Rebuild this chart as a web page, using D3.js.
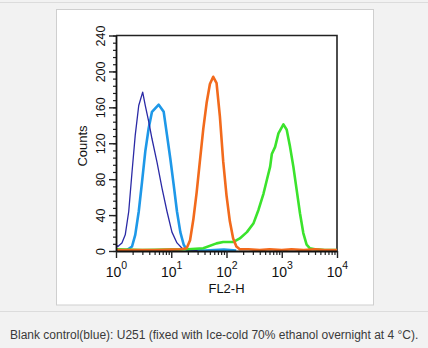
<!DOCTYPE html>
<html><head><meta charset="utf-8">
<script src="https://cdn.jsdelivr.net/npm/d3@7/dist/d3.min.js"></script>
<style>body{margin:0;background:#f2f2f2}svg{display:block}</style>
</head><body><svg id="c" width="428" height="348"></svg>
<script>
// ---- data (FL2-H value, counts) ----
const xTickValues = [1, 10, 100, 1000, 10000];
const yTickValues = [0, 40, 80, 120, 160, 200, 240];
const xLabel = "FL2-H";
const yLabel = "Counts";
const caption = "Blank control(blue): U251 (fixed with Ice-cold 70% ethanol overnight at 4 °C).";

const navyFL    = [1.00, 1.08, 1.28, 1.47, 1.70, 1.95, 2.23, 2.58, 3.04, 3.39, 3.91, 4.48, 5.52, 6.80, 8.38, 10.3, 12.7, 15.7, 20, 30];
const navyCount = [7,    5,    9,    18,   44,   88,   129,  162,  177,  162,  144,  125,  99,   70,   44,   21,   9,    3,    1,  0.5];

const blueFL    = [1.00, 1.30, 1.58, 1.95, 2.23, 2.58, 2.96, 3.39, 3.91, 4.48, 5.93, 7.30, 8.38, 9.61, 11.1, 12.7, 14.6, 16.8, 19.3, 25, 30, 40, 60, 90, 150];
const blueCount = [1,    1,    1,    5,    18,   44,   77,   111,  137,  155,  163,  155,  129,  103,  73,   44,   21,   7,    1,    1,  1,  0.5, 1, 1.5, 0.5];

const orangeFL    = [1, 5, 10, 15, 19.0, 21.9, 25.1, 28.8, 33.1, 38.0, 43.7, 50.1, 57.5, 66.1, 75.9, 87.1, 100, 115, 132, 151, 174, 250, 400, 600, 1000, 1500, 2500, 4000, 6000, 10000];
const orangeCount = [1, 1, 1.5, 2, 3,   12,   35,   65,   101,  136,  165,  186,  194,  187,  150,  100,  62,  33,  14,  5,   2,   2,   1,   2,   1,    2,    1,    2,    1,    1];

const greenFL    = [1, 3, 10, 20, 38, 66, 87, 132, 174, 234, 309, 380, 468, 537, 617, 661, 759, 871, 1072, 1230, 1413, 1622, 1862, 2138, 2455, 2818, 3236, 4000, 6000, 10000];
const greenCount = [2, 1, 1.5, 2, 3, 8.5, 10, 10,  14,  21,  31,  46,  64,  79,  94,  108, 116, 131, 141,  135,  116,  94,   68,   42,   20,   7,    3,    2,    1,    1];

// ---- layout ----
const svg = d3.select("#c");
svg.append("rect").attr("x",0).attr("y",0).attr("width",428).attr("height",348).attr("fill","#f2f2f2");
svg.append("line").attr("x1",0).attr("x2",428).attr("y1",2.5).attr("y2",2.5).attr("stroke","#dcdcdc");
svg.append("rect").attr("x",56.5).attr("y",9.5).attr("width",317).attr("height",295.5).attr("fill","#fff").attr("stroke","#cfcfcf");
svg.append("line").attr("x1",0).attr("x2",428).attr("y1",311.5).attr("y2",311.5).attr("stroke","#dcdcdc");

const x = d3.scaleLog().domain([1, 10000]).range([116, 337]);
const y = d3.scaleLinear().domain([0, 240]).range([251, 35.5]);
const font = "'Liberation Sans', Arial, Helvetica, sans-serif";

// frame top/right
svg.append("path").attr("d", `M${x(1)},${y(240)}H${x(10000)}V${y(0)}`).attr("fill","none").attr("stroke","#222").attr("stroke-width",1.6);

// curves
const line = d3.line().x(d => x(d[0])).y(d => y(d[1]));
const zip = (a, b) => a.map((v, i) => [v, b[i]]);
const series = [
  {fl: blueFL, c: blueCount, color: "#1e98e8", w: 2.6},
  {fl: navyFL, c: navyCount, color: "#2b2aa6", w: 1.3},
  {fl: greenFL, c: greenCount, color: "#3be32c", w: 2.6},
  {fl: orangeFL, c: orangeCount, color: "#f26a1c", w: 2.6}
];
series.forEach(s => {
  svg.append("path").datum(zip(s.fl, s.c)).attr("d", line)
    .attr("fill","none").attr("stroke", s.color).attr("stroke-width", s.w).attr("stroke-linejoin","round");
});

// y axis
const yMinor = d3.range(0, 241, 8);
svg.append("g").attr("transform",`translate(${x(1)},0)`)
  .call(d3.axisLeft(y).tickValues(yMinor).tickSize(3).tickFormat("").tickSizeOuter(0))
  .call(g => g.select(".domain").remove())
  .call(g => g.selectAll("line").attr("stroke","#222").attr("stroke-width",1.2));
const gy = svg.append("g").attr("transform",`translate(${x(1)},0)`)
  .call(d3.axisLeft(y).tickValues(yTickValues).tickSize(7).tickSizeOuter(0));
gy.select(".domain").attr("stroke","#111").attr("stroke-width",1.8);
gy.selectAll("line").attr("stroke","#222").attr("stroke-width",1.4);
gy.selectAll(".tick text").attr("x",0).attr("dy",0).attr("transform","translate(-11,0) rotate(-90)")
  .attr("text-anchor","middle").attr("font-family",font).attr("font-size",12.5).attr("fill","#111");

// x axis
const xMinor = [];
[1,10,100,1000].forEach(p => { for (let k = 2; k <= 9; k++) xMinor.push(p*k); });
svg.append("g").attr("transform",`translate(0,${y(0)})`)
  .call(d3.axisBottom(x).tickValues(xMinor).tickSize(4).tickFormat("").tickSizeOuter(0))
  .call(g => g.select(".domain").remove())
  .call(g => g.selectAll("line").attr("stroke","#222").attr("stroke-width",1.2));
const gx = svg.append("g").attr("transform",`translate(0,${y(0)})`)
  .call(d3.axisBottom(x).tickValues(xTickValues).tickSize(7).tickSizeOuter(0).tickFormat(""));
gx.select(".domain").attr("stroke","#111").attr("stroke-width",1.8);
gx.selectAll("line").attr("stroke","#222").attr("stroke-width",1.4);
gx.selectAll(".tick text").attr("y",26).attr("dy",0).attr("text-anchor","middle")
  .attr("font-family",font).attr("font-size",14).attr("fill","#111")
  .each(function(d){
    const t = d3.select(this);
    t.append("tspan").text("10");
    t.append("tspan").attr("dy",-8).attr("font-size",10.5).text(Math.round(Math.log10(d)));
  });

// axis titles
svg.append("text").attr("transform",`translate(${x(100)},293)`).attr("text-anchor","middle")
  .attr("font-family",font).attr("font-size",13).attr("fill","#111").text(xLabel);
svg.append("text").attr("transform","translate(87,146) rotate(-90)").attr("text-anchor","middle")
  .attr("font-family",font).attr("font-size",13).attr("fill","#111").text(yLabel);

// caption
svg.append("text").attr("x",10).attr("y",339).attr("font-family",font).attr("font-size",12)
  .attr("fill","#3a3a3a").text(caption);
</script></body></html>
